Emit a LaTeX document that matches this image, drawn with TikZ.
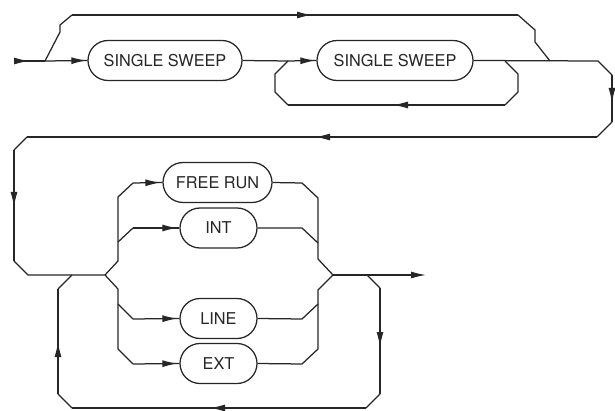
\documentclass[tikz,border=0pt]{standalone}
\usepackage{fontspec}
\setmainfont{TeX Gyre Heros}
\usetikzlibrary{arrows.meta,decorations.markings,shapes.misc}
\tikzset{
  ln/.style={line width=1.25pt, draw=black!85},
  box/.style={ln, rounded rectangle, minimum height=40pt, inner sep=0pt, font=\fontsize{16.3}{16}\selectfont, text=black!85},
  tipat/.style={postaction={decorate,decoration={markings,mark=at position #1 with {\arrow[black!85]{Latex[length=15pt,width=7pt]}}}}},
  endtip/.style={-{Latex[length=15pt,width=7pt]}}
}
\begin{document}
\begin{tikzpicture}[x=1pt,y=-1pt]
\useasboundingbox (0,0) rectangle (615,411);
% nodes
\node[box, minimum width=154pt] (ss1) at (165,60.5) {SINGLE SWEEP};
\node[box, minimum width=156pt] (ss2) at (395,60.5) {SINGLE SWEEP};
\node[box, minimum width=109pt] (fr) at (217.5,182.5) {FREE RUN};
\node[box, minimum width=77pt] (int) at (218.5,228) {INT};
\node[box, minimum width=77pt] (lin) at (218.5,318.5) {LINE};
\node[box, minimum width=77pt] (ext) at (218.5,363.5) {EXT};
% coordinates, top part
\coordinate (in0) at (14,61);
\coordinate (sp1) at (45,61);
\coordinate (b1) at (60,32);
\coordinate (b2) at (60,25);
\coordinate (b3) at (72,15);
\coordinate (b4) at (518,15);
\coordinate (b5) at (535,30);
\coordinate (b6) at (535,42);
\coordinate (jn1) at (550,61);
\coordinate (sp2) at (288,61);
\coordinate (l1) at (275,74);
\coordinate (l2) at (275,92);
\coordinate (l3) at (288,105);
\coordinate (l4) at (505,105);
\coordinate (l5) at (518,92);
\coordinate (l6) at (518,74);
\coordinate (sp3) at (505,61);
\coordinate (r1) at (598,61);
\coordinate (r2) at (612,75);
\coordinate (r3) at (612,122);
\coordinate (r4) at (597,137);
\coordinate (r5) at (27,137);
\coordinate (r6) at (14,150);
\coordinate (r7) at (14,261);
\coordinate (r8) at (28,275);
% bottom part
\coordinate (sp4) at (105,275);
\coordinate (u1) at (118,261);
\coordinate (u2) at (118,197);
\coordinate (u3) at (133,183);
\coordinate (i1) at (118,242);
\coordinate (i2) at (133,228);
\coordinate (d1) at (118,289);
\coordinate (d2) at (118,349);
\coordinate (d3) at (133,364);
\coordinate (e1) at (118,304);
\coordinate (e2) at (133,319);
\coordinate (fo1) at (302,183);
\coordinate (fo2) at (318,198);
\coordinate (fo3) at (318,259);
\coordinate (jn2) at (333,275);
\coordinate (io1) at (302,228);
\coordinate (io2) at (318,243);
\coordinate (lo1) at (302,319);
\coordinate (lo2) at (318,304);
\coordinate (eo1) at (302,364);
\coordinate (eo2) at (318,349);
\coordinate (eo3) at (318,290);
\coordinate (out) at (426,275);
\coordinate (sp5) at (367,275);
\coordinate (k1) at (380,288);
\coordinate (k2) at (380,394);
\coordinate (k3) at (366,408);
\coordinate (k4) at (72,408);
\coordinate (k5) at (58,394);
\coordinate (k6) at (58,289);
\coordinate (k7) at (72,275);
% top connectors
\draw[ln, tipat=15pt] (in0) -- (sp1);
\draw[ln, tipat=-1pt] (sp1) -- (ss1.west);
\draw[ln] (sp1) -- (b1) -- (b2) -- (b3);
\draw[ln, tipat=240pt] (b3) -- (b4);
\draw[ln] (b4) -- (b5) -- (b6) -- (jn1);
\draw[ln] (ss1.east) -- (sp2);
\draw[ln, tipat=-1pt] (sp2) -- (ss2.west);
\draw[ln] (sp3) -- (l6) -- (l5) -- (l4);
\draw[ln, tipat=112pt] (l4) -- (l3);
\draw[ln] (l3) -- (l2) -- (l1) -- (sp2);
\draw[ln] (ss2.east) -- (r1) -- (r2);
\draw[ln, tipat=28pt] (r2) -- (r3);
\draw[ln] (r3) -- (r4);
\draw[ln, tipat=282pt] (r4) -- (r5);
\draw[ln] (r5) -- (r6);
\draw[ln, tipat=57pt] (r6) -- (r7);
\draw[ln] (r7) -- (r8) -- (sp4);
% split
\draw[ln] (sp4) -- (u1) -- (u2) -- (u3);
\draw[ln, tipat=-2pt] (u3) -- (fr.west);
\draw[ln] (i1) -- (i2);
\draw[ln, tipat=-2pt] (i2) -- (int.west);
\draw[ln] (sp4) -- (d1) -- (d2) -- (d3);
\draw[ln, tipat=-2pt] (d3) -- (ext.west);
\draw[ln] (e1) -- (e2);
\draw[ln, tipat=-2pt] (e2) -- (lin.west);
% merge
\draw[ln] (fr.east) -- (fo1) -- (fo2) -- (fo3) -- (jn2);
\draw[ln] (int.east) -- (io1) -- (io2);
\draw[ln] (lin.east) -- (lo1) -- (lo2);
\draw[ln] (ext.east) -- (eo1) -- (eo2) -- (eo3) -- (jn2);
\draw[ln, endtip] (jn2) -- (out);
% feedback loop
\draw[ln] (sp5) -- (k1);
\draw[ln, tipat=59pt] (k1) -- (k2);
\draw[ln] (k2) -- (k3);
\draw[ln, tipat=156pt] (k3) -- (k4);
\draw[ln] (k4) -- (k5);
\draw[ln, tipat=52pt] (k5) -- (k6);
\draw[ln] (k6) -- (k7);
\end{tikzpicture}
\end{document}
